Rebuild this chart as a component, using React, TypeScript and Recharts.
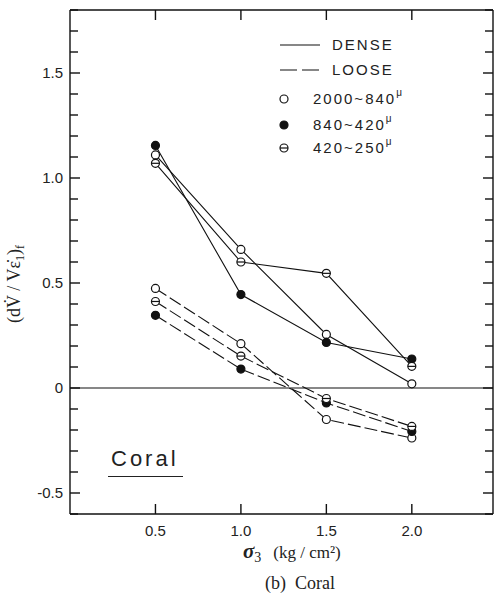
import React from "react";
import { LineChart, Line, XAxis, YAxis, ReferenceLine, Legend, CartesianGrid } from "recharts";

// sigma3 (kg/cm2)
const X_VALUES = [0.5, 1.0, 1.5, 2.0];

// dense specimens
const DENSE_COARSE = [1.11, 0.66, 0.255, 0.02]; // 2000~840
const DENSE_MEDIUM = [1.155, 0.445, 0.217, 0.138]; // 840~420
const DENSE_FINE = [1.07, 0.6, 0.546, 0.103]; // 420~250

// loose specimens
const LOOSE_COARSE = [0.474, 0.211, -0.15, -0.238];
const LOOSE_MEDIUM = [0.346, 0.09, -0.071, -0.207];
const LOOSE_FINE = [0.412, 0.152, -0.05, -0.183];

const X_TICKS = [0.5, 1.0, 1.5, 2.0];
const Y_TICKS = [-0.6, -0.5, -0.4, -0.3, -0.2, -0.1, 0, 0.1, 0.2, 0.3, 0.4, 0.5, 0.6, 0.7, 0.8, 0.9, 1.0, 1.1, 1.2, 1.3, 1.4, 1.5, 1.6, 1.7, 1.8];
const Y_LABELS = [-0.5, 0, 0.5, 1.0, 1.5];

const rows = X_VALUES.map((x, i) => ({
  x,
  dc: DENSE_COARSE[i],
  dm: DENSE_MEDIUM[i],
  df: DENSE_FINE[i],
  lc: LOOSE_COARSE[i],
  lm: LOOSE_MEDIUM[i],
  lf: LOOSE_FINE[i],
}));

const W = 495;
const H = 596;
const PLOT_LEFT = 70;
const PLOT_RIGHT = 493;
const PLOT_TOP = 10;
const PLOT_BOTTOM = 514;
const SANS = "'Liberation Sans', 'DejaVu Sans', sans-serif";
const SERIF = "'Liberation Serif', 'DejaVu Serif', serif";
const R = 4;
const INK = "#111";

function OpenDot(props: any) {
  const { cx, cy } = props;
  if (cx == null || cy == null) return null;
  return <circle cx={cx} cy={cy} r={R} fill="#fff" stroke={INK} strokeWidth={1.2} />;
}

function FilledDot(props: any) {
  const { cx, cy } = props;
  if (cx == null || cy == null) return null;
  return <circle cx={cx} cy={cy} r={R} fill={INK} stroke={INK} strokeWidth={1.2} />;
}

function HalfDot(props: any) {
  const { cx, cy } = props;
  if (cx == null || cy == null) return null;
  return (
    <g>
      <circle cx={cx} cy={cy} r={R} fill="#fff" stroke={INK} strokeWidth={1.2} />
      <line x1={cx - R} x2={cx + R} y1={cy} y2={cy} stroke={INK} strokeWidth={1.2} />
    </g>
  );
}

// inward ticks on both sides, label only on the major ones
function YTick(props: any) {
  const { y, payload } = props;
  const v = payload.value;
  const major = Y_LABELS.some((m) => Math.abs(m - v) < 1e-6);
  const len = major ? 10 : 8;
  return (
    <g>
      <rect x={PLOT_LEFT} y={y - 0.7} width={len} height={1.4} fill={INK} />
      <rect x={PLOT_RIGHT - len} y={y - 0.7} width={len} height={1.4} fill={INK} />
      {major && (
        <text x={63} y={y + 5} textAnchor="end" fontFamily={SANS} fontSize={15} fill="#222">
          {v === 0 ? "0" : v.toFixed(1)}
        </text>
      )}
    </g>
  );
}

function XTick(props: any) {
  const { x, payload } = props;
  return (
    <g>
      <rect x={x - 0.7} y={PLOT_BOTTOM - 10} width={1.4} height={10} fill={INK} />
      <rect x={x - 0.7} y={PLOT_TOP} width={1.4} height={10} fill={INK} />
      <text x={x} y={536} textAnchor="middle" fontFamily={SANS} fontSize={15} fill="#222">
        {payload.value.toFixed(1)}
      </text>
    </g>
  );
}

function YLabel() {
  return (
    <text
      x={20}
      y={284}
      transform="rotate(-90 20 284)"
      textAnchor="middle"
      fontFamily={SERIF}
      fontSize={18}
      fill="#222"
    >
      (dV{"\u0307"} / Vε{"\u0307"}
      <tspan fontSize={12} dy={4}>1</tspan>
      <tspan dy={-4}>)</tspan>
      <tspan fontSize={12} dy={4}>f</tspan>
    </text>
  );
}

function LegendBox() {
  const items = [
    { label: "2000~840", Dot: OpenDot, y: 69 },
    { label: "840~420", Dot: FilledDot, y: 95 },
    { label: "420~250", Dot: HalfDot, y: 118 },
  ];
  return (
    <svg width={180} height={135} style={{ overflow: "visible" }}>
      <line x1={10} x2={50} y1={15} y2={15} stroke={INK} strokeWidth={1.2} />
      <text x={62} y={20} fontFamily={SANS} fontSize={15} letterSpacing={2} fill="#222">DENSE</text>
      <line x1={10} x2={50} y1={40} y2={40} stroke={INK} strokeWidth={1.2} strokeDasharray="17 5" />
      <text x={62} y={45} fontFamily={SANS} fontSize={15} letterSpacing={2} fill="#222">LOOSE</text>
      {items.map((r) => (
        <g key={r.label}>
          <r.Dot cx={14} cy={r.y} />
          <text x={43} y={r.y + 5} fontFamily={SANS} fontSize={15} letterSpacing={2} fill="#222">
            {r.label}
            <tspan fontSize={10} dy={-8}>μ</tspan>
          </text>
        </g>
      ))}
    </svg>
  );
}

export default function App() {
  return (
    <div style={{ position: "absolute", left: 0, top: 0, width: W, height: H, background: "#fff" }}>
      <LineChart width={W} height={H} data={rows} margin={{ top: PLOT_TOP, right: W - PLOT_RIGHT, bottom: 52, left: 10 }}>
        {/* frame: grid lines only on the four edges of the plot */}
        <CartesianGrid
          stroke={INK}
          strokeWidth={1.4}
          horizontalCoordinatesGenerator={({ offset }: any) => [offset.top, offset.top + offset.height]}
          verticalCoordinatesGenerator={({ offset }: any) => [offset.left, offset.left + offset.width]}
        />
        <XAxis
          dataKey="x"
          type="number"
          domain={[0, 2.475]}
          ticks={X_TICKS}
          tick={<XTick />}
          tickLine={false}
          axisLine={false}
          height={30}
          allowDataOverflow
        />
        <YAxis
          type="number"
          domain={[-0.6, 1.8]}
          ticks={Y_TICKS}
          interval={0}
          tick={<YTick />}
          tickLine={false}
          axisLine={false}
          width={60}
          allowDataOverflow
          label={{ content: () => <YLabel /> }}
        />
        <ReferenceLine y={0} stroke={INK} strokeWidth={1.2} />
        <Legend
          layout="vertical"
          align="center"
          verticalAlign="middle"
          wrapperStyle={{ left: 270, top: 30, width: 180 }}
          content={() => <LegendBox />}
        />
        <Line dataKey="lc" stroke={INK} strokeWidth={1.1} strokeDasharray="13 4" dot={<OpenDot />} isAnimationActive={false} />
        <Line dataKey="lm" stroke={INK} strokeWidth={1.1} strokeDasharray="13 4" dot={<FilledDot />} isAnimationActive={false} />
        <Line dataKey="lf" stroke={INK} strokeWidth={1.1} strokeDasharray="13 4" dot={<HalfDot />} isAnimationActive={false} />
        <Line dataKey="dc" stroke={INK} strokeWidth={1.1} dot={<OpenDot />} isAnimationActive={false} />
        <Line dataKey="dm" stroke={INK} strokeWidth={1.1} dot={<FilledDot />} isAnimationActive={false} />
        <Line dataKey="df" stroke={INK} strokeWidth={1.1} dot={<HalfDot />} isAnimationActive={false} />
      </LineChart>
      <div style={{ position: "absolute", left: 111, top: 446, fontFamily: SANS, fontSize: 22, letterSpacing: 3, color: "#222" }}>
        Coral
      </div>
      <div style={{ position: "absolute", left: 108, top: 476, width: 75, height: 0, borderTop: "1.5px solid #222" }} />
      <div style={{ position: "absolute", left: 243, top: 539, fontFamily: SERIF, fontSize: 17, color: "#222", whiteSpace: "nowrap" }}>
        <span style={{ fontSize: 21, fontStyle: "italic", fontWeight: "bold" }}>σ</span>
        <span style={{ fontSize: 14, position: "relative", top: 4 }}>3</span>
        <span style={{ marginLeft: 12 }}>(kg / cm²)</span>
      </div>
      <div style={{ position: "absolute", left: 265, top: 573, fontFamily: SERIF, fontSize: 18, color: "#222", whiteSpace: "nowrap" }}>
        (b)&nbsp; Coral
      </div>
    </div>
  );
}
